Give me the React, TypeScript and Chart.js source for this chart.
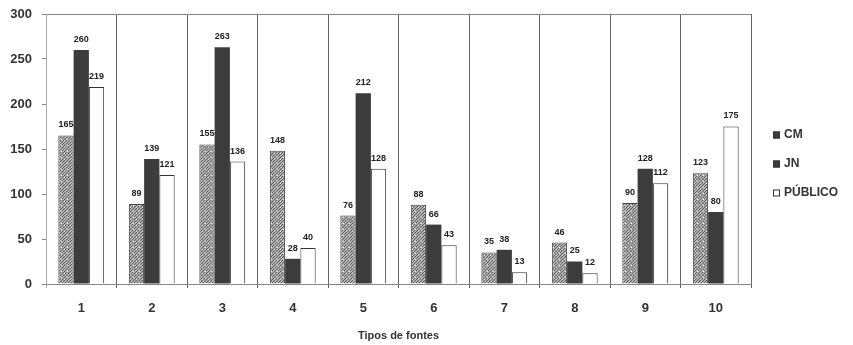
import React, { useEffect, useRef } from "react";
import { Chart, registerables } from "chart.js";

Chart.register(...registerables);

const categories = ["1", "2", "3", "4", "5", "6", "7", "8", "9", "10"];
const cmValues = [165, 89, 155, 148, 76, 88, 35, 46, 90, 123];
const jnValues = [260, 139, 263, 28, 212, 66, 38, 25, 128, 80];
const publicoValues = [219, 121, 136, 40, 128, 43, 13, 12, 112, 175];
const seriesNames = ["CM", "JN", "PÚBLICO"];
const yTicks = [0, 50, 100, 150, 200, 250, 300];
const xTitle = "Tipos de fontes";

const FONT = "'Liberation Sans', Arial, sans-serif";

function makePattern(): CanvasPattern | string {
  const c = document.createElement("canvas");
  c.width = 6;
  c.height = 6;
  const g = c.getContext("2d");
  if (!g) return "#aaa";
  g.fillStyle = "#d4d4d4";
  g.fillRect(0, 0, 6, 6);
  g.strokeStyle = "#5a5a5a";
  g.lineWidth = 1.2;
  g.beginPath();
  for (let k = -6; k <= 12; k += 3) {
    g.moveTo(k, 6);
    g.lineTo(k + 6, 0);
  }
  g.stroke();
  g.fillStyle = "#f0f0f0";
  g.fillRect(1, 1, 1, 1);
  g.fillRect(4, 3, 1, 1);
  const p = g.createPattern(c, "repeat");
  return p || "#aaa";
}

const valueLabels = {
  id: "valueLabels",
  afterDatasetsDraw(chart: any) {
    const ctx = chart.ctx;
    ctx.save();
    ctx.font = `bold 9px ${FONT}`;
    ctx.fillStyle = "#222";
    ctx.textAlign = "center";
    ctx.textBaseline = "bottom";
    chart.data.datasets.forEach((ds: any, di: number) => {
      const meta = chart.getDatasetMeta(di);
      meta.data.forEach((bar: any, i: number) => {
        ctx.fillText(String(ds.data[i]), bar.x, bar.y - 6);
      });
    });
    ctx.restore();
  },
};

const sideLegend = {
  id: "sideLegend",
  afterDraw(chart: any) {
    const ctx = chart.ctx;
    const area = chart.chartArea;
    ctx.save();
    ctx.font = `bold 12px ${FONT}`;
    ctx.textAlign = "left";
    ctx.textBaseline = "middle";
    chart.data.datasets.forEach((ds: any, i: number) => {
      const x = area.right + 22;
      const y = area.top + 121 + i * 29;
      ctx.fillStyle = i === 2 ? "#fff" : "#3c3c3c";
      ctx.fillRect(x, y - 3.5, 7, 7);
      ctx.strokeStyle = "#333";
      ctx.lineWidth = 1;
      ctx.strokeRect(x + 0.5, y - 3, 6, 6);
      ctx.fillStyle = "#333";
      ctx.fillText(ds.label, x + 11, y);
    });
    ctx.restore();
  },
};

export default function App() {
  const ref = useRef<HTMLCanvasElement | null>(null);

  useEffect(() => {
    if (!ref.current) return;
    const pattern = makePattern();
    const chart = new Chart(ref.current, {
      type: "bar",
      data: {
        labels: categories,
        datasets: [
          {
            label: seriesNames[0],
            data: cmValues,
            backgroundColor: pattern as any,
            borderColor: "#444",
            borderWidth: 1,
          },
          {
            label: seriesNames[1],
            data: jnValues,
            backgroundColor: "#3c3c3c",
            borderColor: "#333",
            borderWidth: 0,
          },
          {
            label: seriesNames[2],
            data: publicoValues,
            backgroundColor: "#ffffff",
            borderColor: "#333",
            borderWidth: 1,
          },
        ],
      },
      options: {
        animation: false,
        responsive: false,
        maintainAspectRatio: false,
        layout: { padding: { left: 8, right: 102, top: 14, bottom: 0 } },
        datasets: {
          bar: { categoryPercentage: 0.65, barPercentage: 1.0 },
        },
        plugins: {
          legend: { display: false },
          tooltip: { enabled: false },
        },
        scales: {
          x: {
            offset: true,
            grid: {
              offset: true,
              color: (c: any) => (c.index === 0 ? "#aaa" : "#666"),
              lineWidth: 1,
              tickLength: 4,
              drawOnChartArea: true,
            },
            border: { display: true, color: "#888" },
            ticks: {
              color: "#333",
              font: { family: FONT, size: 13, weight: "bold" },
              padding: 13,
            },
            title: {
              display: true,
              text: xTitle,
              color: "#333",
              font: { family: FONT, size: 11, weight: "bold" },
              padding: { top: 0, bottom: 2 },
            },
            afterFit: (scale: any) => {
              scale.height = 61;
              scale.paddingLeft = 0;
              scale.paddingRight = 0;
            },
          },
          y: {
            min: 0,
            max: 300,
            afterBuildTicks: (scale: any) => {
              scale.ticks = yTicks.map((v) => ({ value: v }));
            },
            grid: {
              color: (c: any) => (c.tick && c.tick.value === 300 ? "#888" : "rgba(0,0,0,0)"),
              tickColor: "#888",
              tickLength: 4,
            },
            border: { display: true, color: "#aaa" },
            ticks: {
              color: "#333",
              font: { family: FONT, size: 13, weight: "bold" },
              padding: 10,
            },
            afterFit: (scale: any) => {
              scale.width = 38;
              scale.paddingTop = 0;
              scale.paddingBottom = 0;
            },
          },
        },
      },
      plugins: [valueLabels, sideLegend],
    });
    return () => chart.destroy();
  }, []);

  return (
    <div style={{ position: "absolute", left: 0, top: 0, width: 853, height: 345, background: "#fff" }}>
      <canvas ref={ref} width={853} height={345} style={{ display: "block", width: 853, height: 345 }} />
    </div>
  );
}
